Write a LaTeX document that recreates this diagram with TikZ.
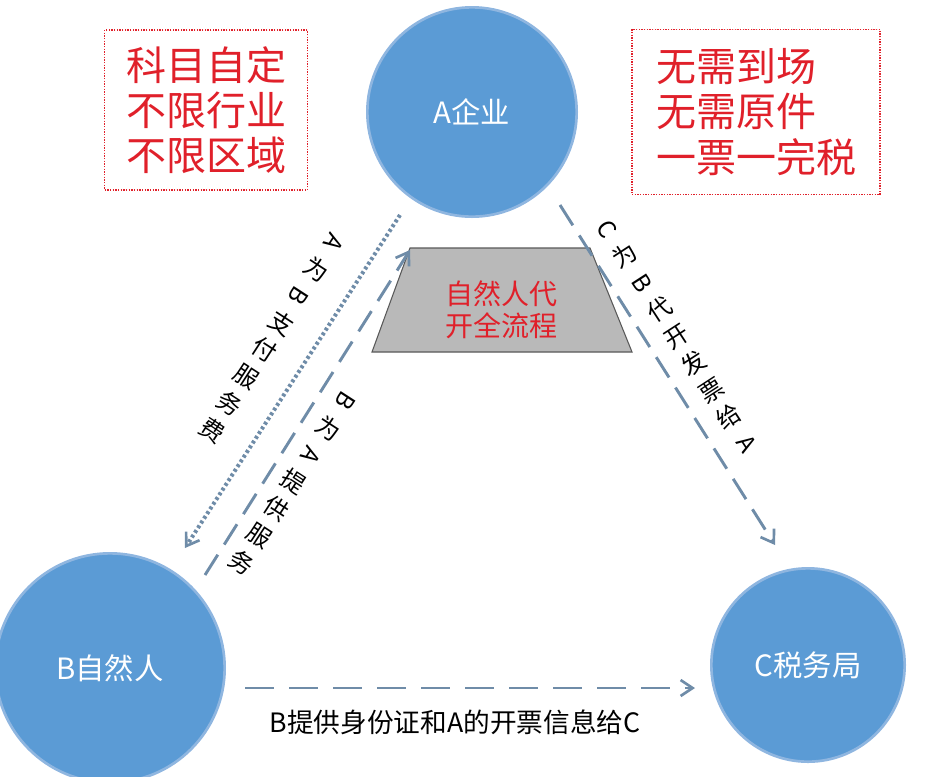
\documentclass[tikz,border=0pt]{standalone}
\usepackage{fontspec}
\setmainfont{Noto Sans CJK SC}
\usepackage{graphicx}
\usetikzlibrary{arrows.meta}
\definecolor{cblue}{HTML}{5B9BD5}
\definecolor{cedge}{HTML}{8FB6E0}
\definecolor{arr}{HTML}{6F8CA8}
\definecolor{rtxt}{HTML}{E0202A}
\newcommand{\rl}[1]{\rotatebox[origin=c]{-90}{#1}}
\begin{document}
\begin{tikzpicture}[x=0.75pt,y=-0.75pt,
  circ/.style={circle,fill=cblue,draw=cedge,line width=2pt,text=white,font=\fontsize{22}{26}\selectfont,inner sep=0pt},
  redbox/.style={draw=rtxt,densely dotted,line width=1pt,text=rtxt,align=left,font=\fontsize{30}{34}\selectfont,inner sep=0pt},
  conn/.style={arr,line width=2.2pt,-{Straight Barb[length=9pt,width=12pt,line width=2pt]}},
  vlab/.style={font=\fontsize{18}{24}\selectfont,align=center,inner sep=0pt}]
\useasboundingbox (0,0) rectangle (944,776);
\clip (0,0) rectangle (944,776);
\node[circ,minimum size=157pt] (A) at (472,112) {A企业};
\node[circ,minimum size=172pt] (B) at (110,668) {B自然人};
\node[circ,minimum size=145pt] (C) at (808,665) {C税务局};
\node[redbox,minimum width=152pt,minimum height=120pt] (L) at (206,110) {科目自定\\不限行业\\不限区域};
\node[redbox,minimum width=186pt,minimum height=124pt] (R) at (756,112) {无需到场\\无需原件\\一票一完税};
\fill[gray!55,draw=gray!70!black,line width=0.8pt] (410,248) -- (590,248) -- (632,352) -- (372,352) -- cycle;
\node[text=rtxt,align=center,font=\fontsize{21}{24}\selectfont] (T) at (501,310) {自然人代\\开全流程};
\coordinate (a1) at (400,215); \coordinate (b1) at (185,548);
\coordinate (b2) at (205,575); \coordinate (a2) at (410,250);
\coordinate (a3) at (560,205); \coordinate (c3) at (775,545);
\coordinate (b4) at (245,688); \coordinate (c4) at (695,688);
\draw[conn,dotted,line width=3pt] (a1) -- (b1);
\draw[conn,dash pattern=on 18pt off 9pt] (b2) -- (a2);
\draw[conn,dash pattern=on 18pt off 9pt] (a3) -- (c3);
\draw[conn,dash pattern=on 22pt off 11pt] (b4) -- (c4);
\node[vlab,rotate=-33] (l1) at (272,338) {\rl{A}\\为\\\rl{B}\\支\\付\\服\\务\\费};
\node[vlab,rotate=-33] (l2) at (293,483) {\rl{B}\\为\\\rl{A}\\提\\供\\服\\务};
\node[vlab,rotate=33] (l3) at (677,337) {\rl{C}\\为\\\rl{B}\\代\\开\\发\\票\\给\\\rl{A}};
\node[font=\fontsize{20}{22}\selectfont] (l4) at (455,722) {B提供身份证和A的开票信息给C};
\end{tikzpicture}
\end{document}
